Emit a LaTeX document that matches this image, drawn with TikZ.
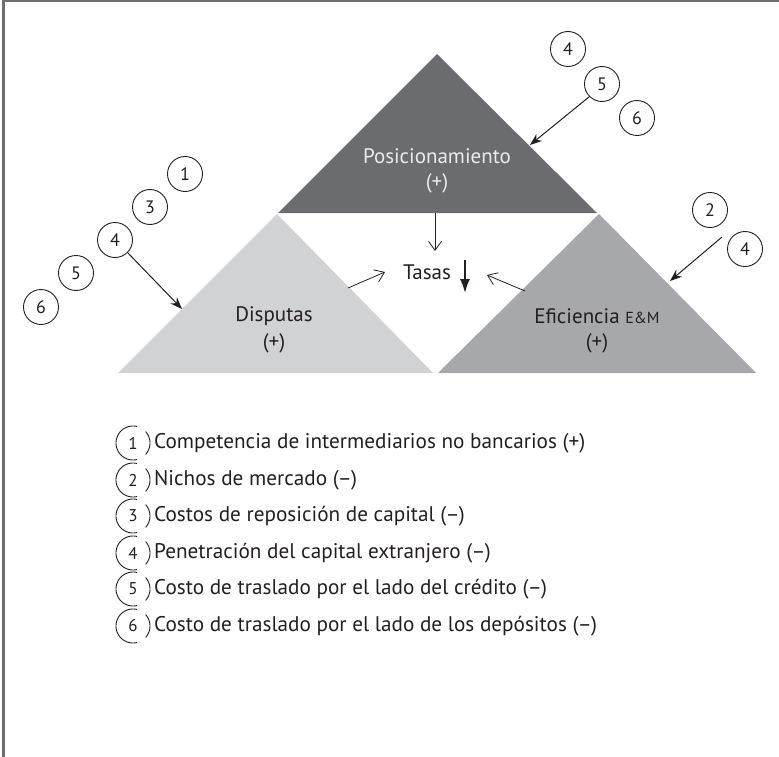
\documentclass[tikz,border=0pt]{standalone}
\usepackage{fontspec}
\setmainfont{PT Sans}
\usetikzlibrary{arrows.meta}
\definecolor{framegray}{HTML}{6E6E70}
\definecolor{darktri}{HTML}{6B6C6F}
\definecolor{midtri}{HTML}{A7A8AB}
\definecolor{lighttri}{HTML}{D1D2D4}
\definecolor{inktext}{HTML}{231F20}
\begin{document}
\begin{tikzpicture}[x=1pt,y=-1pt,
  lbl/.style={font=\fontsize{21}{24}\selectfont,text=inktext,inner sep=0pt},
  num/.style={circle,draw=inktext,line width=0.9pt,minimum size=35pt,inner sep=0pt,font=\fontsize{18}{18}\selectfont,text=inktext},
  legnum/.style={circle,draw=none,minimum size=34pt,inner sep=0pt,font=\fontsize{17}{17}\selectfont,text=inktext},
  legarc/.style={line width=0.9pt,draw=inktext},
  legtxt/.style={anchor=west,inner xsep=0pt,inner ysep=0pt,font=\fontsize{21.2}{24}\selectfont,text=inktext},
  openarr/.style={line width=0.8pt,draw=inktext,-{Straight Barb[length=9pt,width=13pt,line width=0.8pt]}},
  filarr/.style={line width=1pt,draw=inktext,-{Stealth[length=12pt,width=9pt]}},
  fatarr/.style={line width=1.6pt,draw=inktext,-{Latex[length=14pt,width=10pt]}}]
\useasboundingbox (0,0) rectangle (779,757);
\draw[line width=2.5pt,framegray] (3.5,757) -- (3.5,1.2) -- (779,1.2);

% triangles
\coordinate (pL) at (278,213); \coordinate (pA) at (437,54); \coordinate (pR) at (597,213);
\coordinate (dL) at (118,373); \coordinate (dA) at (277,214); \coordinate (dR) at (433,373);
\coordinate (eL) at (438,373); \coordinate (eA) at (599,214); \coordinate (eR) at (756,373);
\fill[darktri] (pL) -- (pA) -- (pR) -- cycle;
\fill[lighttri] (dL) -- (dA) -- (dR) -- cycle;
\fill[midtri] (eL) -- (eA) -- (eR) -- cycle;

% triangle labels
\node[lbl,text=white!92!black] (posT) at (437,156) {Posicionamiento};
\node[lbl,text=white!92!black] (posP) at (437,183) {(+)};
\node[lbl] (disT) at (274,316) {Disputas};
\node[lbl] (disP) at (274,343) {(+)};
\node[lbl] (efiT) at (597,316) {Eficiencia {\fontsize{16}{16}\selectfont E\&M}};
\node[lbl] (efiP) at (597,343) {(+)};
\node[lbl] (tasas) at (427,272) {Tasas};

% internal arrows
\coordinate (pbase) at (435,213); \coordinate (pend) at (435,251);
\draw[openarr] (pbase) -- (pend);
\coordinate (dstart) at (348,288); \coordinate (dend) at (385,272);
\draw[openarr] (dstart) -- (dend);
\coordinate (estart) at (525,291); \coordinate (eend) at (487,275);
\draw[openarr] (estart) -- (eend);
\coordinate (down1) at (465,260); \coordinate (down2) at (465,293);
\draw[fatarr] (down1) -- (down2);

% left group of circles
\node[num] (c1) at (185,174) {1};
\node[num] (c3) at (150,207) {3};
\node[num] (c4) at (115,240) {4};
\node[num] (c5) at (76,273) {5};
\node[num] (c6) at (41,307) {6};
\coordinate (dhit) at (182,309);
\draw[filarr] (c4.-45) -- (dhit);

% top right group
\node[num] (t4) at (568,49) {4};
\node[num] (t5) at (602,84) {5};
\node[num] (t6) at (637,118) {6};
\coordinate (phit) at (530,145);
\draw[filarr] (t5.-135) -- (phit);

% right group
\node[num] (r2) at (710,210) {2};
\node[num] (r4) at (745,249) {4};
\coordinate (rstart) at (722,237); \coordinate (ehit) at (670,281);
\draw[filarr] (rstart) -- (ehit);

% legend
\foreach \i/\y/\t in {1/443/{Competencia de intermediarios no bancarios (+)},
                      2/480/{Nichos de mercado (–)},
                      3/516/{Costos de reposición de capital (–)},
                      4/553/{Penetración del capital extranjero (–)},
                      5/589/{Costo de traslado por el lado del crédito (–)},
                      6/626/{Costo de traslado por el lado de los depósitos (–)}}{
  \node[legnum] (leg\i) at (133,\y) {\raisebox{-2.5pt}{\i}};
  \draw[legarc,shift={(leg\i.center)}] plot[domain=76:284,samples=40] ({17*cos(\x)},{17*sin(\x)});
  \draw[legarc,shift={(leg\i.center)}] plot[domain=-42:42,samples=20] ({17*cos(\x)},{17*sin(\x)});
  \node[legtxt] (leg\i t) at (154,\y) {\t};
}
\end{tikzpicture}
\end{document}
